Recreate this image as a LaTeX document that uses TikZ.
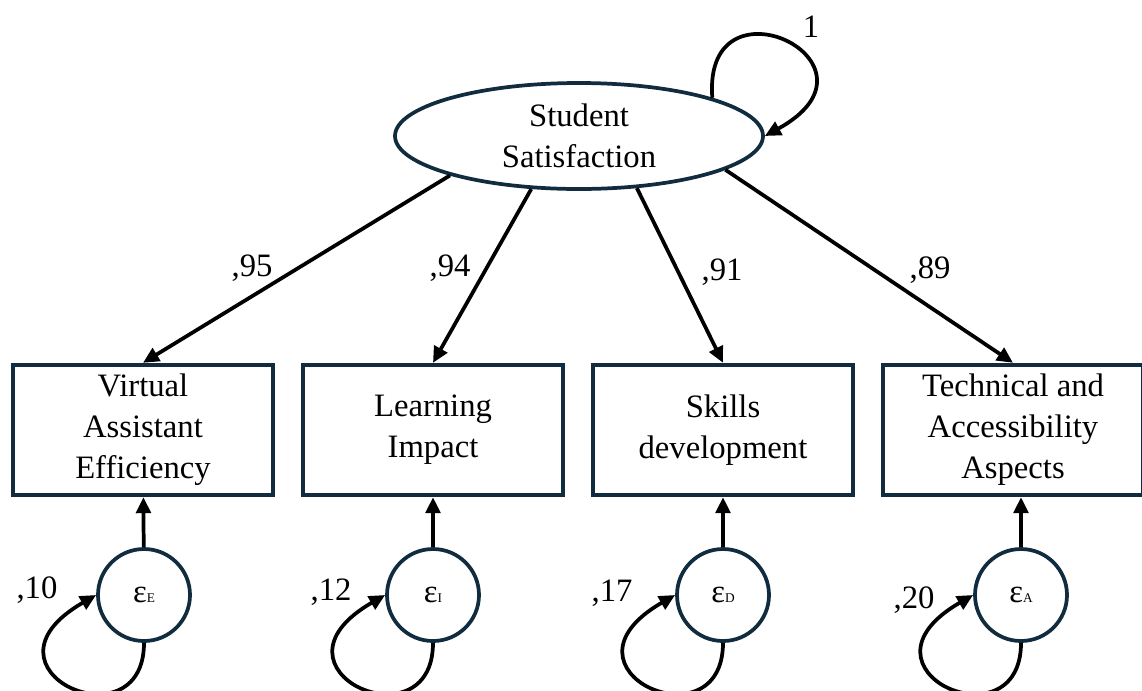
\documentclass[tikz,border=0pt]{standalone}
\usepackage{fontspec}
\setmainfont{Liberation Serif}
\usetikzlibrary{arrows.meta,shapes.geometric}
\definecolor{navy}{RGB}{16,44,62}
\tikzset{every picture/.style={line width=0.75pt}}
\tikzset{
  latent/.style={draw=navy, line width=2.8pt, ellipse, minimum width=276pt, minimum height=79.5pt, inner sep=0pt, align=center},
  observed/.style={draw=navy, line width=2.8pt, rectangle, minimum width=195pt, minimum height=98pt, inner sep=0pt, align=center},
  errnode/.style={draw=navy, line width=2.8pt, circle, minimum size=69pt, inner sep=0pt},
  path/.style={draw=black, line width=2.8pt, -{Triangle[length=12pt,width=11pt]}},
  coef/.style={inner sep=0pt}
}
\newcommand{\eps}[1]{ε{\fontsize{10}{10}\selectfont #1}}

\begin{document}
\begin{tikzpicture}[x=0.75pt,y=0.75pt,yscale=-1,xscale=1,font=\fontsize{24.5}{30.75}\selectfont]
        \useasboundingbox (0,0) rectangle (1142,690);

        % latent variable
        \node [latent] (ss) at (579,136) {Student\\Satisfaction};

        % indicators
        \node [observed] (vae) at (143,430) {Virtual\\Assistant\\Efficiency};
        \node [observed] (li) at (433,430) {Learning\\Impact};
        \node [observed] (sd) at (723,430) {Skills\\development};
        \node [observed] (ta) at (1013,430) {Technical and\\Accessibility\\Aspects};

        % error terms
        \node [errnode] (ee) at (144,595) {\eps{E}};
        \node [errnode] (ei) at (433,595) {\eps{I}};
        \node [errnode] (ed) at (723,595) {\eps{D}};
        \node [errnode] (ea) at (1021,595) {\eps{A}};

        % loadings
        \draw [path] (ss.197) -- (vae.north);
        \draw [path] (ss.228) -- (li.north);
        \draw [path] (ss.318) -- (sd.north);
        \draw [path] (ss.347) -- (ta.north);

        % error paths
        \draw [path] (ee) -- (vae);
        \draw [path] (ei) -- (li);
        \draw [path] (ed) -- (sd);
        \draw [path] (ea.north) -- (ea.north |- ta.south);

        % variances
        \draw [path] (ss.16) .. controls +(-10,-128) and +(133,-73) .. (ss.0);
        \foreach \e in {ee,ei,ed,ea}{
          \draw [path] (\e.south) .. controls +(0,105) and +(-130,75) .. (\e.west);
        }

        % Text Node
        \node [coef] (c95) at (252,268) {,95};
        \node [coef] (c94) at (450,268) {,94};
        \node [coef] (c91) at (722,272) {,91};
        \node [coef] (c89) at (930,270) {,89};
        \node [coef] (v1) at (811,27) {1};
        \node [coef] (v10) at (37,590) {,10};
        \node [coef] (v12) at (331,592) {,12};
        \node [coef] (v17) at (612,593) {,17};
        \node [coef] (v20) at (914,600) {,20};
\end{tikzpicture}
\end{document}
